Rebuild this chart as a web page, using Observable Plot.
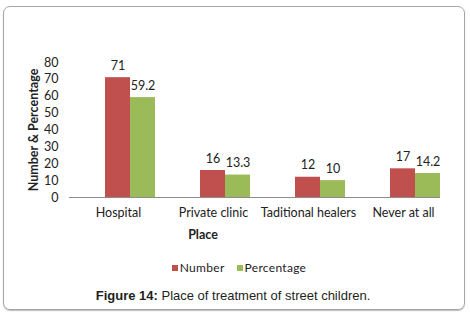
<!DOCTYPE html>
<html>
<head>
<meta charset="utf-8">
<script src="https://cdn.jsdelivr.net/npm/d3@7"></script>
<script src="https://cdn.jsdelivr.net/npm/@observablehq/plot@0.6"></script>
<style>
  html, body { margin: 0; padding: 0; background: #fff; }
  #wrap { position: relative; width: 470px; height: 319px; overflow: hidden; }
  #box { position: absolute; left: 3px; top: 6px; width: 460px; height: 302px;
         border: 1px solid #a6a6a6; border-radius: 7px; box-shadow: 0 1px 1px #bbb; }
  #chart { position: absolute; left: 0; top: 0; }
  #legend { position: absolute; left: 0; top: 260px; width: 470px; display: flex; justify-content: center;
            font-family: Lato, sans-serif; font-size: 12px; color: #222; padding-left: 8px; box-sizing: border-box; letter-spacing: 0.3px; }
  #legend span.item { display: inline-flex; align-items: center; margin: 0 6px; }
  #legend span.sw { width: 6px; height: 6px; display: inline-block; margin-right: 2px; }
  #caption { position: absolute; left: 0; top: 288px; width: 466px; text-align: center;
             font-family: "Liberation Sans", Arial, sans-serif; font-size: 13px; color: #231f20; }
  #caption b { font-weight: bold; }
</style>
</head>
<body>
<div id="wrap">
  <div id="box"></div>
  <div id="chart"></div>
  <div id="legend"></div>
  <div id="caption"><b>Figure 14:</b> Place of treatment of street children.</div>
</div>
<script>
const categories = ["Hospital", "Private clinic", "Taditional healers", "Never at all"];
const numberValues = [71, 16, 12, 17];
const percentValues = [59.2, 13.3, 10, 14.2];
const numberLabels = ["71", "16", "12", "17"];
const percentLabels = ["59.2", "13.3", "10", "14.2"];
const seriesNames = ["Number", "Percentage"];
const seriesColors = ["#c0504d", "#9bbb59"];
const yTicks = [0, 10, 20, 30, 40, 50, 60, 70, 80];
const yTitle = "Number & Percentage";
const xTitle = "Place";

const numRows = categories.map((c, i) => ({category: c, value: numberValues[i], label: numberLabels[i]}));
const pctRows = categories.map((c, i) => ({category: c, value: percentValues[i], label: percentLabels[i]}));

const chart = Plot.plot({
  width: 470,
  height: 250,
  marginLeft: 69,
  marginRight: 30,
  marginTop: 62,
  marginBottom: 53,
  style: {fontFamily: "Lato, sans-serif", fontSize: "12.5px", color: "#222", background: "transparent", overflow: "visible"},
  x: {domain: categories, paddingInner: 0.475, paddingOuter: 0.184, align: 1},
  y: {domain: [0, 80]},
  marks: [
    Plot.barY(numRows, {x: "category", y: "value", fill: seriesColors[0], insetRight: 25}),
    Plot.barY(pctRows, {x: "category", y: "value", fill: seriesColors[1], insetLeft: 25}),
    Plot.ruleY([0], {stroke: "#8c8c8c"}),
    Plot.axisY({ticks: yTicks, tickSize: 0, tickPadding: 11, line: true, stroke: "#8c8c8c", label: null, tickFormat: d => String(d)}),
    Plot.axisX({tickSize: 0, tickPadding: 11, dx: -12, label: null}),
    Plot.text(numRows, {x: "category", y: "value", text: "label", dx: -12.5, dy: -12, fill: "#222"}),
    Plot.text(pctRows, {x: "category", y: "value", text: "label", dx: 12.5, dy: -12, fill: "#222"}),
    Plot.text([yTitle], {frameAnchor: "left", textAnchor: "middle", lineAnchor: "middle", rotate: -90, dx: -36, fontWeight: "bold", fontSize: 12.5, fill: "#222"}),
    Plot.text([xTitle], {frameAnchor: "bottom", textAnchor: "middle", lineAnchor: "middle", dx: -52, dy: 37, fontWeight: "bold", fontSize: 12.5, fill: "#222"})
  ]
});
document.getElementById("chart").appendChild(chart);

const legend = document.getElementById("legend");
seriesNames.forEach((name, i) => {
  const item = document.createElement("span");
  item.className = "item";
  const sw = document.createElement("span");
  sw.className = "sw";
  sw.style.background = seriesColors[i];
  item.appendChild(sw);
  item.appendChild(document.createTextNode(name));
  legend.appendChild(item);
});
</script>
</body>
</html>
